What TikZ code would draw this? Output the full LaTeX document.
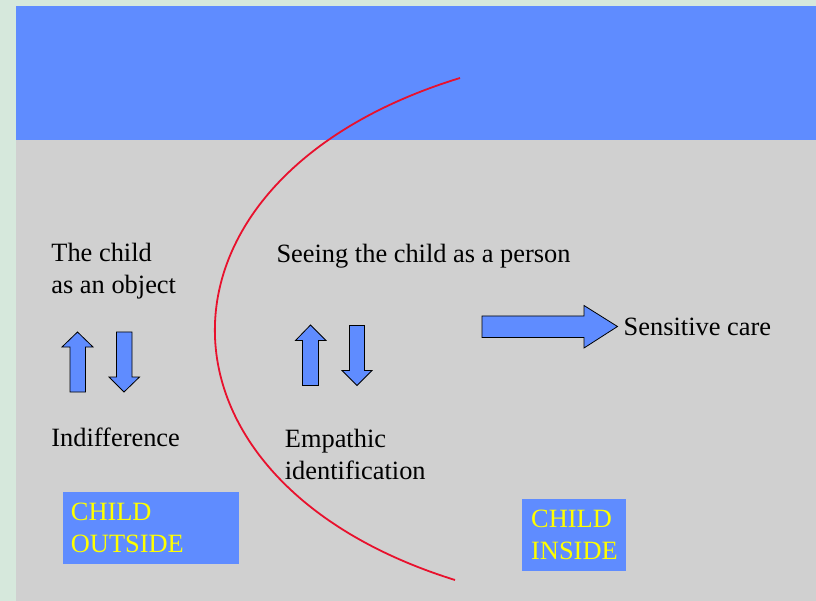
\documentclass[tikz,border=0pt]{standalone}
\usepackage{fontspec}
\setmainfont{Liberation Serif}
\newfontfamily\slidefont{Liberation Serif}
\definecolor{pagegreen}{HTML}{D6E8DC}
\definecolor{bandblue}{HTML}{5F8CFF}
\definecolor{floorgrey}{HTML}{D0D0D0}
\definecolor{curvered}{HTML}{E8112D}
\definecolor{boxyellow}{HTML}{FFFF00}
\tikzset{
  lbl/.style={anchor=base west, inner sep=0pt, align=left,
    font=\slidefont\fontsize{26.4}{31.6}\selectfont},
  blockarrow/.style={draw=black, fill=bandblue, line width=0.8pt, line join=miter},
  childbox/.style={fill=bandblue, text=boxyellow, anchor=north west, align=left,
    inner ysep=0pt, minimum height=71.7pt, font=\slidefont\fontsize{26.4}{31.6}\selectfont},
}
\begin{document}
\begin{tikzpicture}[x=1pt,y=-1pt]
  \useasboundingbox (0,0) rectangle (816,601);
  % background, band and floor
  \fill[pagegreen] (0,0) rectangle (816,601);
  \fill[bandblue] (16,6) rectangle (816,140);
  \fill[floorgrey] (16,140) rectangle (816,601);

  % the dividing curve
  \draw[curvered, line width=1.8pt] (460,78) .. controls (134,178) and (134,480) .. (455,580);

  % Left side (child outside)
  \node[lbl] (object) at (51.2,293.3) {The child\\as an object};
  \draw[blockarrow] (70,392) -- (70,347) -- (62,347) -- (77.5,332) -- (93,347)
    -- (85.5,347) -- (85.5,392) -- cycle;
  \draw[blockarrow] (116.5,332) -- (132,332) -- (132,377) -- (139.5,377)
    -- (124,392) -- (109,377) -- (116.5,377) -- cycle;
  \node[lbl] (indiff) at (51.2,446) {Indifference};
  \node[childbox, text width=160pt, inner xsep=8pt] (outside) at (62.7,492) {CHILD\\OUTSIDE};

  % Right side (child inside)
  \node[lbl] (person) at (276.3,262.3) {Seeing the child as a person};
  \draw[blockarrow] (302.5,385.5) -- (302.5,340.5) -- (295.5,340.5) -- (310.5,325)
    -- (326,340.5) -- (318.5,340.5) -- (318.5,385.5) -- cycle;
  \draw[blockarrow] (349.5,325.5) -- (364.5,325.5) -- (364.5,370.5) -- (372,370.5)
    -- (357,385.5) -- (342,370.5) -- (349.5,370.5) -- cycle;
  \node[lbl] (empath) at (284.7,479.3) {Empathic\\identification};
  \draw[blockarrow] (482,316) -- (584,316) -- (584,305.5) -- (617.5,326.5)
    -- (584,348) -- (584,337.5) -- (482,337.5) -- cycle;
  \node[lbl] (care) at (623.5,335.5) {Sensitive care};
  \node[childbox, text width=86pt, inner xsep=9pt] (inside) at (522,499) {CHILD\\INSIDE};
\end{tikzpicture}
\end{document}
